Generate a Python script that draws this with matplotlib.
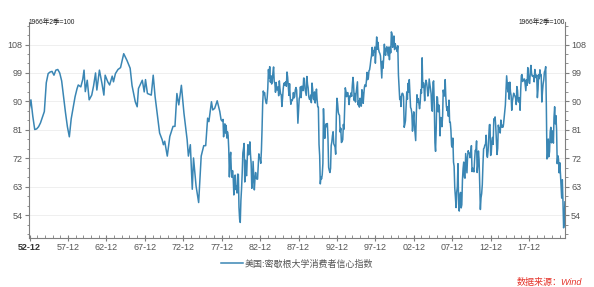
#!/usr/bin/env python3
"""University of Michigan consumer sentiment, 1952-2022 (Wind style)."""

import matplotlib

matplotlib.use("Agg")

import matplotlib.dates as mdates
import matplotlib.pyplot as plt
import matplotlib.ticker as mticker
import numpy as np
import pandas as pd

plt.rcParams["font.family"] = ["Liberation Sans", "Noto Sans CJK SC", "DejaVu Sans"]
plt.rcParams["axes.unicode_minus"] = False

LINE = "#3A86B4"
AXIS = "#7F7F7F"
TEXT = "#555555"
RED = "#E5332A"

SERIES_NAME = "美国:密歇根大学消费者信心指数"
BASE_NOTE = "1966年2季=100"
SOURCE_NOTE = "数据来源：Wind"

# early, irregular (roughly quarterly) survey readings
EARLY_DATES = [
    "1952-11", "1953-02", "1953-05", "1953-08", "1953-11", "1954-02", "1954-05",
    "1954-11", "1955-02", "1955-05", "1955-08", "1955-11", "1956-02", "1956-05",
    "1956-08", "1956-11", "1957-02", "1957-05", "1957-08", "1957-11", "1958-02",
    "1958-05", "1958-08", "1958-11", "1959-02", "1959-04", "1959-08", "1959-11",
    "1960-01", "1960-03", "1960-06", "1960-09", "1961-01", "1961-04", "1961-07",
    "1961-09", "1962-01", "1962-05", "1962-08", "1962-10", "1963-02", "1963-05",
    "1963-09", "1963-11", "1964-02", "1964-06", "1964-10", "1965-03", "1965-08",
    "1966-01", "1966-04", "1966-09", "1966-12", "1967-02", "1967-08", "1967-11",
    "1968-01", "1968-04", "1968-10", "1969-01", "1969-04", "1969-11", "1970-03",
    "1970-05", "1970-07", "1970-11", "1971-03", "1971-08", "1971-11", "1972-02",
    "1972-05", "1972-09", "1973-01", "1973-06", "1973-08", "1973-11", "1974-02",
    "1974-04", "1974-08", "1974-12", "1975-04", "1975-08", "1975-11", "1976-02",
    "1976-04", "1976-08", "1976-10", "1977-01", "1977-05", "1977-09", "1977-11",
]
EARLY_VALUES = [
    87.0, 90.5, 85.3, 81.1, 81.3, 82.0, 83.2,
    86.8, 95.9, 98.8, 99.3, 99.5, 98.3, 99.9,
    100.1, 99.0, 96.5, 91.5, 86.5, 82.0, 78.8,
    84.5, 88.0, 91.5, 94.0, 95.2, 94.6, 97.0,
    99.9, 93.1, 96.7, 90.5, 92.0, 95.0, 99.0,
    93.6, 99.9, 95.7, 92.0, 98.3, 96.2, 95.2,
    98.0, 96.2, 98.8, 100.1, 100.7, 105.1, 103.0,
    100.5, 95.0, 89.9, 88.3, 94.1, 96.7, 93.0,
    96.9, 92.5, 92.0, 98.3, 91.5, 80.0, 77.9,
    76.3, 77.4, 72.7, 78.9, 82.1, 82.1, 92.5,
    88.9, 95.1, 86.3, 77.9, 72.7, 76.3, 62.2,
    72.1, 63.2, 58.0, 72.7, 76.0, 76.0, 84.7,
    83.6, 89.9, 87.3, 87.8, 90.2, 86.8, 84.2,
]

# monthly readings from 1978-01
MONTHLY_START = "1978-01"
SENT_1978_1989 = [
    83.7, 84.3, 78.8, 81.6, 82.9, 80.0, 82.4, 78.4, 80.4, 79.3, 75.0, 66.1,
    72.1, 73.9, 68.4, 66.0, 68.1, 65.8, 60.4, 64.5, 66.7, 62.1, 63.3, 61.0,
    67.0, 66.9, 56.5, 52.7, 51.7, 58.7, 62.3, 67.3, 73.7, 75.0, 76.7, 64.5,
    71.4, 66.9, 66.5, 72.4, 76.3, 73.1, 74.1, 77.2, 73.1, 70.3, 62.5, 64.3,
    71.0, 66.5, 62.0, 65.5, 67.5, 65.7, 65.4, 65.4, 69.3, 73.4, 72.1, 71.9,
    70.4, 74.6, 80.8, 89.1, 93.3, 92.2, 92.8, 90.9, 89.9, 89.3, 91.1, 94.2,
    100.1, 97.4, 101.0, 96.1, 98.1, 95.5, 96.6, 99.1, 100.9, 96.3, 95.7, 92.9,
    96.0, 93.7, 93.7, 94.6, 91.8, 96.5, 94.0, 92.4, 92.1, 88.4, 90.9, 93.9,
    95.6, 95.9, 95.1, 96.2, 94.8, 99.3, 97.7, 94.9, 91.9, 95.6, 91.4, 89.1,
    90.4, 90.2, 90.8, 92.8, 91.1, 91.5, 93.7, 94.4, 93.6, 89.3, 83.1, 86.8,
    90.8, 91.6, 94.6, 91.2, 94.8, 94.7, 93.4, 97.4, 97.3, 94.1, 93.0, 91.9,
    97.9, 95.4, 94.3, 91.5, 90.7, 90.6, 92.0, 89.6, 95.8, 93.9, 90.9, 90.5,
]
SENT_1990_1999 = [
    93.0, 89.5, 91.3, 93.9, 90.6, 88.3, 88.2, 76.4, 72.8, 63.9, 66.0, 65.5,
    66.8, 70.4, 87.7, 81.8, 78.3, 82.1, 82.9, 82.0, 83.0, 78.3, 69.1, 68.2,
    67.5, 68.8, 76.0, 77.2, 79.2, 80.4, 76.6, 76.1, 75.6, 73.3, 85.3, 91.0,
    89.3, 86.6, 85.9, 85.6, 80.3, 81.5, 77.0, 77.3, 77.9, 82.7, 81.2, 88.2,
    94.3, 93.2, 91.5, 92.6, 92.8, 91.2, 89.0, 91.7, 91.5, 92.7, 91.6, 95.1,
    97.6, 95.1, 90.3, 92.5, 89.8, 92.7, 94.4, 96.2, 88.9, 90.2, 88.2, 91.0,
    89.3, 88.5, 93.7, 92.7, 89.4, 92.4, 94.7, 95.3, 94.7, 96.5, 99.2, 96.9,
    97.4, 99.7, 100.0, 101.4, 103.2, 104.5, 107.1, 104.4, 106.0, 105.6, 107.2, 102.1,
    106.6, 110.4, 106.5, 108.7, 106.5, 105.6, 105.2, 104.4, 100.9, 97.4, 102.7, 100.5,
    103.9, 108.1, 105.7, 104.6, 106.8, 107.3, 106.0, 104.5, 107.2, 103.2, 107.2, 105.4,
]
SENT_2000_2009 = [
    112.0, 111.3, 107.1, 109.2, 110.7, 106.4, 108.3, 107.3, 106.8, 105.8, 107.6, 98.4,
    94.7, 90.6, 91.5, 88.4, 92.0, 92.6, 92.4, 91.5, 81.8, 82.7, 83.9, 88.8,
    93.0, 90.7, 95.7, 93.0, 96.9, 92.4, 88.1, 87.6, 86.1, 80.6, 84.2, 86.7,
    82.4, 79.9, 77.6, 86.0, 92.1, 89.7, 90.9, 89.3, 87.7, 89.6, 93.7, 92.6,
    103.8, 94.4, 95.8, 94.2, 90.2, 95.6, 96.7, 95.9, 94.2, 91.7, 92.8, 97.1,
    95.5, 94.1, 92.6, 87.7, 86.9, 96.0, 96.5, 89.1, 76.9, 74.2, 81.6, 91.5,
    91.2, 86.7, 88.9, 87.4, 79.1, 84.9, 84.7, 82.0, 85.4, 93.6, 92.1, 91.7,
    96.9, 91.3, 88.4, 87.1, 88.3, 85.3, 90.4, 83.4, 83.4, 80.9, 76.1, 75.5,
    78.4, 70.8, 69.5, 62.6, 59.8, 56.4, 61.2, 63.0, 70.3, 57.6, 55.3, 60.1,
    61.2, 56.3, 57.3, 65.1, 68.7, 70.8, 66.0, 65.7, 73.5, 70.6, 67.4, 72.5,
]
SENT_2010_2022 = [
    74.4, 73.6, 73.6, 72.2, 73.6, 76.0, 67.8, 68.9, 68.2, 67.7, 71.6, 74.5,
    74.2, 77.5, 67.5, 69.8, 74.3, 71.5, 63.7, 55.8, 59.5, 60.8, 63.7, 69.9,
    75.0, 75.3, 76.2, 76.4, 79.3, 73.2, 72.3, 74.3, 78.3, 82.6, 82.7, 72.9,
    73.8, 77.6, 78.6, 76.4, 84.5, 84.1, 85.1, 82.1, 77.5, 73.2, 75.1, 82.5,
    81.2, 81.6, 80.0, 84.1, 81.9, 82.5, 81.8, 82.5, 84.6, 86.9, 88.8, 93.6,
    98.1, 95.4, 93.0, 95.9, 90.7, 96.1, 93.1, 91.9, 87.2, 90.0, 91.3, 92.6,
    92.0, 91.7, 91.0, 89.0, 94.7, 93.5, 90.0, 89.8, 91.2, 87.2, 93.8, 98.2,
    98.5, 96.3, 96.9, 97.0, 97.1, 95.1, 93.4, 96.8, 95.1, 100.7, 98.5, 95.9,
    95.7, 99.7, 101.4, 98.8, 98.0, 98.2, 97.9, 96.2, 100.1, 98.6, 97.5, 98.3,
    91.2, 93.8, 98.4, 97.2, 100.0, 98.2, 98.4, 89.8, 93.2, 95.5, 96.8, 99.3,
    99.8, 101.0, 89.1, 71.8, 72.3, 78.1, 72.5, 74.1, 80.4, 81.8, 76.9, 80.7,
    79.0, 76.8, 84.9, 88.3, 82.9, 85.5, 81.2, 70.3, 72.8, 71.7, 67.4, 70.6,
    67.2, 62.8, 59.4, 65.2, 58.4, 50.0, 51.5, 58.2,
]

Y_TICKS = [54, 63, 72, 81, 90, 99, 108]
MAJOR_YEARS = list(range(1952, 2018, 5))


def build_series():
    monthly = SENT_1978_1989 + SENT_1990_1999 + SENT_2000_2009 + SENT_2010_2022
    monthly_dates = pd.date_range(MONTHLY_START, periods=len(monthly), freq="MS")
    dates = list(pd.to_datetime(EARLY_DATES)) + list(monthly_dates)
    values = EARLY_VALUES + monthly
    return pd.Series(values, index=pd.DatetimeIndex(dates))


def main():
    s = build_series()

    fig = plt.figure(figsize=(5.94, 2.87), dpi=100)
    ax = fig.add_axes([0.0488, 0.171, 0.9022, 0.752])

    ax.plot(s.index, s.values, color=LINE, linewidth=1.1, label=SERIES_NAME)

    ax.set_xlim(s.index[0], s.index[-1])
    ax.set_ylim(46.8, 115.1)

    ax.yaxis.set_major_locator(mticker.FixedLocator(Y_TICKS))
    ax.yaxis.set_minor_locator(mticker.MultipleLocator(3))
    ax.grid(axis="y", which="major", color="#EDEDED", linewidth=0.6)
    ax.set_axisbelow(True)

    majors = [mdates.date2num(pd.Timestamp(f"{y}-12-01")) for y in MAJOR_YEARS]
    minors = [mdates.date2num(pd.Timestamp(f"{y}-12-01")) for y in range(1952, 2023)]
    ax.xaxis.set_major_locator(mticker.FixedLocator(majors))
    ax.xaxis.set_minor_locator(mticker.FixedLocator(minors))
    ax.xaxis.set_major_formatter(mdates.DateFormatter("%y-%m"))

    for side in ("left", "right", "bottom"):
        ax.spines[side].set_color(AXIS)
        ax.spines[side].set_linewidth(0.8)
    ax.spines["top"].set_visible(False)

    ax.tick_params(axis="y", which="both", left=True, right=True,
                   labelleft=True, labelright=True, direction="out",
                   color=AXIS, labelcolor=TEXT, labelsize=6.5, pad=1.5)
    ax.tick_params(axis="y", which="major", length=3)
    ax.tick_params(axis="y", which="minor", length=1.8)
    ax.tick_params(axis="x", which="major", direction="inout", length=4,
                   color=AXIS, labelcolor=TEXT, labelsize=6.5, pad=2)
    ax.tick_params(axis="x", which="minor", direction="in", length=2, color=AXIS)

    first = ax.get_xticklabels()[0]
    first.set_fontweight("bold")
    first.set_color("#333333")

    ax.text(0.0, 1.0, BASE_NOTE, transform=ax.transAxes, ha="left", va="center",
            fontsize=4.8, color="#222222")
    ax.text(1.0, 1.0, BASE_NOTE, transform=ax.transAxes, ha="right", va="center",
            fontsize=4.8, color="#222222")

    fig.legend(loc="center", bbox_to_anchor=(0.5, 0.08), frameon=False,
               fontsize=6.5, handlelength=2.4, handletextpad=0.2,
               labelcolor=TEXT)

    fig.text(0.98, 0.016, SOURCE_NOTE, ha="right", va="center", fontsize=6.5,
             color=RED, style="italic")

    fig.savefig("out.png", dpi=100, facecolor="white")
    plt.close(fig)


if __name__ == "__main__":
    main()
